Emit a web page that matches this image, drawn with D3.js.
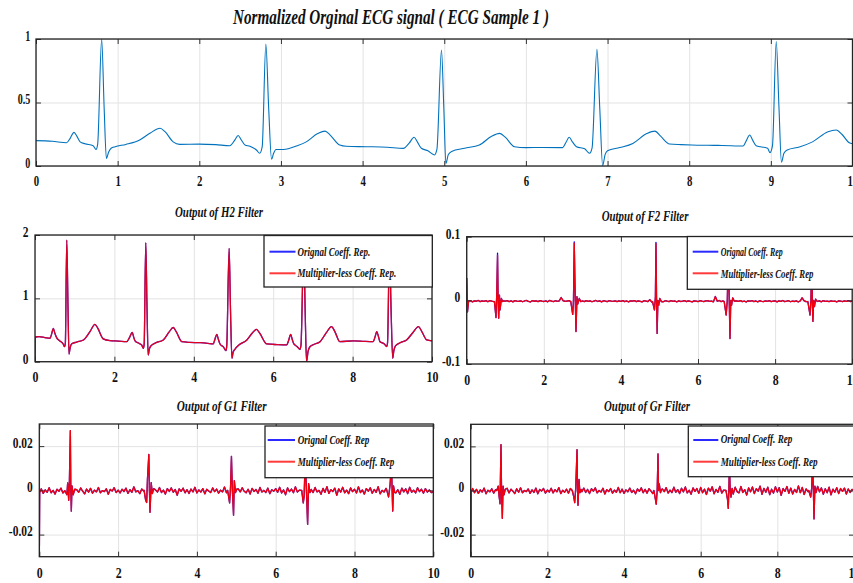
<!DOCTYPE html>
<html><head><meta charset="utf-8">
<script src="https://cdn.jsdelivr.net/npm/d3@7"></script>
<style>
html,body{margin:0;padding:0;background:#fff;}
svg{display:block;}
</style></head><body>
<svg id="c" width="853" height="583"></svg>
<script>
// ---------------- DATA ----------------
const mainTitle = "Normalized Orginal ECG signal ( ECG Sample 1 )";
const panelTitles = ["Output of H2 Filter", "Output of F2 Filter", "Output of G1 Filter", "Output of Gr Filter"];
const legendH2 = ["Orignal Coeff. Rep.", "Multiplier-less Coeff. Rep."];
const legendOther = ["Orignal Coeff. Rep", "Multiplier-less Coeff. Rep"];

const ecgXTicks = [0,1,2,3,4,5,6,7,8,9,10];
const ecgYTicks = [0,0.5,1];
const filtXTicks = [0,2,4,6,8,10];
const h2YTicks = [0,1,2];
const f2YTicks = [-0.1,0,0.1];
const gYTicks = [-0.02,0,0.02];

// Normalized original ECG [time s, amplitude]
const ecgSignal = [[0,0.20],[0.2,0.195],[0.375,0.183],[0.42,0.22],[0.465,0.265],[0.5,0.235],[0.54,0.19],[0.6,0.175],[0.70,0.16],[0.735,0.13],[0.755,0.17],[0.804,1.0],[0.835,0.45],[0.862,0.06],[0.89,0.11],[0.92,0.14],[0.97,0.152],[1.1,0.17],[1.27,0.205],[1.4,0.26],[1.52,0.297],[1.58,0.27],[1.68,0.19],[1.76,0.17],[2.0,0.172],[2.2,0.168],[2.375,0.16],[2.43,0.2],[2.476,0.24],[2.51,0.21],[2.56,0.165],[2.62,0.155],[2.70,0.126],[2.74,0.10],[2.77,0.15],[2.815,0.96],[2.85,0.45],[2.885,0.053],[2.91,0.1],[2.94,0.13],[3.03,0.13],[3.2,0.16],[3.31,0.19],[3.45,0.255],[3.54,0.275],[3.6,0.245],[3.72,0.165],[3.8,0.155],[4.05,0.152],[4.3,0.148],[4.50,0.139],[4.57,0.18],[4.63,0.226],[4.67,0.19],[4.72,0.14],[4.80,0.12],[4.88,0.087],[4.91,0.13],[4.966,0.913],[4.995,0.45],[5.02,0.02],[5.05,0.09],[5.09,0.115],[5.25,0.14],[5.43,0.165],[5.58,0.235],[5.68,0.257],[5.75,0.225],[5.86,0.152],[6.0,0.145],[6.2,0.146],[6.45,0.145],[6.49,0.185],[6.53,0.226],[6.57,0.19],[6.62,0.152],[6.72,0.135],[6.78,0.10],[6.81,0.14],[6.87,0.918],[6.905,0.45],[6.94,0.003],[6.97,0.09],[7.0,0.12],[7.15,0.145],[7.31,0.178],[7.48,0.255],[7.58,0.275],[7.65,0.235],[7.76,0.173],[7.9,0.168],[8.03,0.165],[8.2,0.163],[8.4,0.162],[8.66,0.157],[8.70,0.2],[8.74,0.244],[8.78,0.2],[8.82,0.16],[8.96,0.14],[8.99,0.105],[9.02,0.16],[9.066,0.98],[9.10,0.45],[9.13,0.03],[9.16,0.1],[9.20,0.126],[9.35,0.15],[9.51,0.19],[9.70,0.27],[9.80,0.283],[9.87,0.25],[9.96,0.183],[10,0.175]];

// H2 filter output [time s, amplitude] (both representations overlap)
const h2Output = [[0,0],[0.005,0.39],[0.1,0.395],[0.25,0.38],[0.38,0.37],[0.42,0.44],[0.46,0.527],[0.5,0.45],[0.545,0.38],[0.62,0.33],[0.71,0.28],[0.745,0.237],[0.765,0.3],[0.80,1.92],[0.83,0.9],[0.856,0.12],[0.885,0.22],[0.92,0.28],[1.05,0.31],[1.22,0.343],[1.38,0.47],[1.51,0.59],[1.58,0.53],[1.72,0.36],[1.89,0.332],[2.1,0.325],[2.31,0.316],[2.38,0.38],[2.45,0.464],[2.48,0.4],[2.52,0.33],[2.62,0.29],[2.69,0.26],[2.73,0.21],[2.75,0.28],[2.79,1.88],[2.82,0.9],[2.85,0.105],[2.88,0.2],[2.92,0.25],[3.05,0.3],[3.23,0.343],[3.38,0.47],[3.48,0.54],[3.56,0.47],[3.70,0.316],[3.9,0.305],[4.16,0.30],[4.35,0.29],[4.49,0.28],[4.53,0.35],[4.58,0.43],[4.62,0.35],[4.66,0.28],[4.75,0.23],[4.81,0.174],[4.83,0.25],[4.89,1.79],[4.925,0.8],[4.96,0.054],[4.99,0.15],[5.04,0.2],[5.15,0.27],[5.33,0.34],[5.47,0.45],[5.58,0.51],[5.66,0.45],[5.84,0.28],[6.1,0.27],[6.34,0.265],[6.39,0.34],[6.44,0.43],[6.48,0.35],[6.52,0.28],[6.6,0.24],[6.675,0.195],[6.70,0.26],[6.77,1.85],[6.805,0.8],[6.84,0.0],[6.88,0.17],[6.93,0.24],[7.05,0.28],[7.18,0.316],[7.33,0.45],[7.47,0.553],[7.55,0.48],[7.68,0.316],[8.02,0.33],[8.3,0.32],[8.52,0.316],[8.56,0.38],[8.61,0.474],[8.65,0.4],[8.69,0.316],[8.8,0.28],[8.86,0.24],[8.88,0.3],[8.93,1.82],[8.97,0.8],[9.01,0.053],[9.04,0.18],[9.08,0.25],[9.2,0.3],[9.36,0.343],[9.52,0.46],[9.66,0.553],[9.74,0.48],[9.87,0.343],[10,0.33]];

// Filter outputs: start transient, QRS complexes [time s, value], baseline noise (x1e-4, one value every 0.05 s)
const noiseStep = 0.05;
const noiseUnit = 1e-4;

const f2Start = [[0,0.035],[0.02,-0.018],[0.05,-0.001]];
const f2Beats = [
  [[0.72,-0.002],[0.76,-0.027],[0.78,0.012],[0.80,0.071],[0.815,0.0],[0.83,-0.028],[0.85,0.008],[0.865,-0.015],[0.9,0.003],[0.93,-0.002]],
  [[2.70,-0.002],[2.75,-0.022],[2.77,0.0],[2.79,0.090],[2.81,0.02],[2.835,-0.049],[2.86,0.006],[2.88,-0.006],[2.92,0.003],[2.96,-0.002]],
  [[4.82,-0.002],[4.87,-0.015],[4.895,0.005],[4.91,0.089],[4.925,0.0],[4.94,-0.052],[4.96,0.0],[4.98,-0.008],[5.01,0.003],[5.05,-0.002]],
  [[6.68,-0.002],[6.73,-0.023],[6.76,0.0],[6.79,0.08],[6.81,0.0],[6.83,-0.06],[6.85,0.0],[6.87,-0.008],[6.9,0.004],[6.94,-0.001]],
  [[8.85,-0.002],[8.905,-0.023],[8.93,0.0],[8.95,0.07],[8.965,0.0],[8.98,-0.033],[9.0,0.0],[9.02,-0.01],[9.05,0.002],[9.08,-0.001]]
];
const f2PeaksOrig = [0.074, 0.092, 0.091, 0.082, 0.072];
const f2Noise = [
 -6,-18,-4,-25,-9,-14,-2,-20,-10,-16,-5,-23,-3,-12,-19,-8,-15,-4,-21,-9,
 -13,-5,-19,-8,-24,-3,-11,-17,-7,-22,-10,-2,-16,-26,-6,-14,-9,-20,-4,-12,
 -18,-7,-23,-1,-13,-19,-6,-15,-9,45,-3,-17,-11,-5,-21,-8,-14,-28,-7,-14,
 -10,-19,-4,-16,-8,-22,-12,-2,-18,-9,-24,-6,-14,-19,-3,-11,-17,-7,-21,-9,
 -15,-5,-20,-10,-25,-8,-13,-3,-19,-9,-16,-23,-6,-12,-19,12,-27,-9,-14,-4,
 -17,-9,-22,-6,-13,-19,-3,-15,-10,-25,-7,-18,-12,-5,-20,-9,-16,-23,-8,-11,
 -19,-6,-14,-21,-9,-4,-17,-12,-24,60,-15,-2,-19,-10,16,-28,-13,-7,-18,-22,
 -8,-16,-5,-20,-11,-26,-7,-14,-3,-19,-10,-23,-6,-15,-21,-9,-17,-4,-19,-12,
 -7,-24,-9,-16,-2,-19,-13,-6,-22,-11,-18,-7,-25,-10,40,-5,-20,-9,-16,-21,
 -6,-13,-18,-9,-23,-3,-15,-11,-19,-8,-17,-12,-25,-7,-14,-21,-9,-16,-5,-18,
 -11];

const g1Start = [[0,-0.032],[0.01,-0.001]];
const g1Beats = [
  [[0.70,-0.002],[0.72,0.0034],[0.746,-0.0045],[0.763,0.0034],[0.788,0.027],[0.80,0.0],[0.813,-0.0094],[0.83,0.002],[0.86,-0.002],[0.9,0.0005]],
  [[2.66,0.0],[2.70,-0.0045],[2.725,-0.0055],[2.745,0.005],[2.78,0.0162],[2.795,0.0],[2.81,-0.0099],[2.84,0.0035],[2.87,-0.0015],[2.9,0.0008]],
  [[4.78,0.0],[4.83,-0.0057],[4.855,0.002],[4.877,0.0154],[4.90,0.0],[4.93,-0.0112],[4.95,0.0044],[4.98,-0.001],[5.01,0.0005]],
  [[6.66,0.0],[6.70,-0.0057],[6.72,-0.003],[6.75,0.014],[6.78,0.0],[6.81,-0.0154],[6.835,0.003],[6.87,-0.001]],
  [[8.82,0.0],[8.865,-0.003],[8.90,0.002],[8.94,0.012],[8.955,0.0],[8.97,-0.0094],[8.99,0.002],[9.02,-0.001]]
];
const g1Noise = [
 -6,7,-14,2,-9,12,-11,0,-17,5,-4,10,-12,-2,-15,8,-7,14,-13,3,
 -9,11,-4,-16,6,-8,9,-13,1,-7,13,-11,-1,-6,7,-18,4,-3,12,-10,
 1,-12,5,-5,10,-14,3,-9,16,-7,-1,-15,6,-3,-11,9,-6,5,-13,2,
 -8,13,-10,1,-17,8,-5,11,-9,4,-22,7,-4,10,-11,3,-14,6,-7,14,
 -12,2,-8,8,-16,5,-3,-10,11,-6,6,-13,1,-7,15,-11,3,-9,9,-5,
 -14,7,-7,12,-4,-11,5,-17,9,-5,4,-13,13,-8,0,-10,10,-15,3,-4,
 8,-9,14,-12,2,-20,11,-6,6,-11,16,-8,1,-16,7,-5,12,-13,4,-10,
 13,-7,0,-18,9,-9,17,-14,3,-5,10,-22,7,-8,14,-11,1,-15,11,-6,
 5,-12,16,-10,2,-17,8,-4,12,-13,4,-9,17,-16,0,-8,9,-14,6,-5,
 11,-11,3,-18,10,-7,7,-15,14,-9,1,-12,12,-6,5,-13,8,-8,2,-10,
 -6];

const grStart = [[0,-0.032],[0.01,-0.001]];
const grBeats = [
  [[0.68,0.0],[0.72,0.002],[0.74,-0.0025],[0.765,-0.006],[0.79,0.0208],[0.805,0.0],[0.825,-0.0126],[0.845,0.002],[0.87,-0.002],[0.9,0.0005]],
  [[2.65,0.0],[2.69,-0.003],[2.713,-0.0055],[2.74,0.001],[2.774,0.0185],[2.787,0.0],[2.80,-0.0067],[2.826,0.005],[2.85,-0.001],[2.88,0.0005]],
  [[4.78,0.0],[4.84,-0.0062],[4.865,0.0],[4.887,0.0166],[4.90,0.0],[4.92,0.003],[4.95,-0.001],[4.98,0.0005]],
  [[6.66,0.0],[6.70,-0.004],[6.72,-0.0081],[6.735,0.0],[6.75,0.012],[6.77,0.0],[6.79,-0.003],[6.82,0.001]],
  [[8.82,0.0],[8.87,-0.003],[8.895,0.001],[8.92,0.012],[8.94,0.0],[8.957,-0.0129],[8.98,0.002],[9.01,-0.001]]
];
const grNoise = [
 -4,9,-10,5,-13,3,-7,11,-15,1,-6,8,-12,4,-9,13,-16,2,-5,10,
 -11,6,-3,-14,8,-8,12,-10,0,-5,7,-13,3,-9,11,-15,5,-2,9,-12,
 2,-7,10,-11,4,-6,13,-14,1,-8,6,-12,9,-4,-10,7,-13,3,-6,11,
 -9,5,-14,8,-3,12,-11,0,-7,10,-16,4,-5,9,-12,2,-8,14,-10,6,
 -13,3,-6,11,-9,1,-15,7,-4,12,-10,5,-12,8,-2,-14,10,-7,4,-11,
 7,-5,13,-12,2,-9,15,-8,4,-14,10,-6,16,-11,1,-17,12,-4,9,-13,
 14,-10,6,-18,11,-3,17,-15,5,-8,19,-12,2,-20,13,-7,9,-16,15,-5,
 -11,18,-9,4,-21,12,-6,16,-14,8,-3,20,-17,10,-8,15,-19,6,-12,17,
 -7,13,-22,9,-4,18,-13,11,-16,5,-9,21,-10,14,-18,7,-5,16,-15,10,
 -12,19,-6,12,-17,8,-10,15,-20,6,-8,13,-14,9,-4,11,-16,7,-9,5,
 -3];

// ---------------- BUILD ----------------
function buildSeries(start, beats, noise){
  const pts = start.map(p => p.slice());
  const lastStart = start.length ? start[start.length-1][0] : -1;
  noise.forEach((n,i) => {
    const t = +(i*noiseStep).toFixed(4);
    if (t <= lastStart) return;
    if (beats.some(b => t >= b[0][0] - 0.01 && t <= b[b.length-1][0] + 0.01)) return;
    pts.push([t, n*noiseUnit]);
  });
  beats.forEach(b => b.forEach(p => pts.push(p.slice())));
  pts.sort((a,b) => a[0]-b[0]);
  return pts;
}
function withPeaks(beats, peaks){
  return beats.map((b,i) => {
    let mi = 0; b.forEach((p,j) => { if (p[1] > b[mi][1]) mi = j; });
    return b.map((p,j) => j === mi ? [p[0], peaks[i]] : p);
  });
}

const f2Mless = buildSeries(f2Start, f2Beats, f2Noise);
const f2Orig = buildSeries(f2Start, withPeaks(f2Beats, f2PeaksOrig), f2Noise);
const g1Series = buildSeries(g1Start, g1Beats, g1Noise);
const grSeries = buildSeries(grStart, grBeats, grNoise);

const FONT = '"Liberation Serif","Times New Roman",Times,serif';
const BLUE = "#0000ff", RED = "#ff0000";
const svg = d3.select("#c");

function drawPanel(p){
  const [x0,y0,x1,y1] = p.box;
  const x = d3.scaleLinear().domain([0,10]).range([x0,x1]);
  const y = d3.scaleLinear().domain(p.yDomain).range([y1,y0]);
  const g = svg.append("g");

  // grid
  g.append("g").attr("transform",`translate(0,${y1})`)
    .call(d3.axisBottom(x).tickValues(p.xTicks).tickSize(-(y1-y0)).tickFormat(""))
    .call(s => { s.select(".domain").remove(); s.selectAll("line").attr("stroke","#e3e3e3").attr("stroke-width",1); });
  g.append("g").attr("transform",`translate(${x0},0)`)
    .call(d3.axisLeft(y).tickValues(p.yTicks).tickSize(-(x1-x0)).tickFormat(""))
    .call(s => { s.select(".domain").remove(); s.selectAll("line").attr("stroke","#e3e3e3").attr("stroke-width",1); });

  // traces
  const cid = "clip-" + p.id;
  svg.append("clipPath").attr("id",cid).append("rect")
    .attr("x",x0).attr("y",y0).attr("width",x1-x0).attr("height",y1-y0);
  const plot = g.append("g").attr("clip-path",`url(#${cid})`);
  p.series.forEach(s => {
    plot.append("path").datum(s.data)
      .attr("d", d3.line().x(d => x(d[0])).y(d => y(d[1])).curve(s.curve))
      .attr("fill","none").attr("stroke",s.color).attr("stroke-width",s.width)
      .attr("stroke-opacity", s.opacity == null ? 1 : s.opacity)
      .attr("stroke-linejoin","round");
  });

  // inward tick marks
  const tk = (axis, tr) => g.append("g").attr("transform",tr).call(axis)
    .call(s => { s.select(".domain").remove(); s.selectAll("line").attr("stroke","#333").attr("stroke-width",1); });
  tk(d3.axisBottom(x).tickValues(p.xTicks).tickSize(-5).tickFormat(""), `translate(0,${y1})`);
  tk(d3.axisTop(x).tickValues(p.xTicks).tickSize(-5).tickFormat(""), `translate(0,${y0})`);
  tk(d3.axisLeft(y).tickValues(p.yTicks).tickSize(-5).tickFormat(""), `translate(${x0},0)`);
  tk(d3.axisRight(y).tickValues(p.yTicks).tickSize(-5).tickFormat(""), `translate(${x1},0)`);

  // box
  g.append("rect").attr("x",x0).attr("y",y0).attr("width",x1-x0).attr("height",y1-y0)
    .attr("fill","none").attr("stroke","#222").attr("stroke-width",1.3);

  // tick labels
  const lab = (axis, tr, size, sx, isY) => {
    const a = g.append("g").attr("transform",tr).call(axis);
    a.select(".domain").remove();
    a.selectAll("line").remove();
    a.selectAll("text").attr("font-family",FONT).attr("font-weight","bold")
      .attr("font-size",size).attr("fill","#111").attr("transform",`scale(${sx},1)`);
    if (isY) a.selectAll("text").attr("dy","0.1em");
  };
  lab(d3.axisBottom(x).tickValues(p.xTicks).tickSize(0).tickPadding(p.xPad).tickFormat(d => String(d)),
      `translate(0,${y1})`, p.xFont, p.sx, false);
  lab(d3.axisLeft(y).tickValues(p.yTicks).tickSize(0).tickPadding(p.yPad).tickFormat(d => String(d)),
      `translate(${x0},0)`, p.yFont, p.sx, true);

  // title
  g.append("text").attr("x",p.title.x).attr("y",p.title.y).text(p.title.text)
    .attr("font-family",FONT).attr("font-weight","bold").attr("font-style","italic")
    .attr("font-size",p.title.size).attr("fill","#111")
    .attr("textLength",p.title.len).attr("lengthAdjust","spacingAndGlyphs");

  // legend
  if (p.legend){
    const L = p.legend;
    const lg = g.append("g");
    lg.append("rect").attr("x",L.box[0]).attr("y",L.box[1]).attr("width",L.box[2]-L.box[0]).attr("height",L.box[3]-L.box[1])
      .attr("fill","#fff").attr("stroke","#222").attr("stroke-width",1.3);
    [BLUE, RED].forEach((c,i) => {
      lg.append("line").attr("x1",L.lineX[0]).attr("x2",L.lineX[1]).attr("y1",L.rowY[i]).attr("y2",L.rowY[i])
        .attr("stroke", i === 0 ? "#2a2aff" : "#ff3a3a").attr("stroke-width",2);
      lg.append("text").attr("x",L.textX).attr("y",L.base[i]).text(L.labels[i])
        .attr("font-family",FONT).attr("font-weight","bold").attr("font-style","italic")
        .attr("font-size",13.5).attr("fill","#111")
        .attr("textLength",L.len[i]).attr("lengthAdjust","spacingAndGlyphs");
    });
  }
}

const linear = d3.curveLinear, smooth = d3.curveMonotoneX;

drawPanel({id:"ecg", box:[36,39,852.5,166], yDomain:[0,1], xTicks:ecgXTicks, yTicks:ecgYTicks,
  xPad:9, yPad:8, xFont:15, yFont:14, sx:0.72,
  title:{text:mainTitle, x:233, y:23.5, size:22, len:316},
  series:[{data:ecgSignal, color:"#0072BD", width:1.1, curve:smooth}]});

drawPanel({id:"h2", box:[35,235,432,361.7], yDomain:[0,2], xTicks:filtXTicks, yTicks:h2YTicks,
  xPad:10, yPad:8, xFont:14.5, yFont:14, sx:0.82,
  title:{text:panelTitles[0], x:175, y:217, size:15, len:88},
  legend:{box:[264,235.5,432.3,287], lineX:[269.5,295.5], rowY:[251.7,273.3], textX:297.5, base:[255.5,277], len:[72.7,98.7], labels:legendH2},
  series:[{data:h2Output, color:BLUE, width:1.3, curve:smooth},
          {data:h2Output, color:RED, width:1.3, opacity:0.86, curve:smooth}]});

drawPanel({id:"f2", box:[466.7,236.7,852.2,364], yDomain:[-0.1,0.1], xTicks:filtXTicks, yTicks:f2YTicks,
  xPad:11, yPad:8, xFont:14.5, yFont:14, sx:0.82,
  title:{text:panelTitles[1], x:601.7, y:220.5, size:15, len:86.7},
  legend:{box:[687.3,236.5,860,289.3], lineX:[692.7,718.3], rowY:[251.7,273.3], textX:720.7, base:[256,278], len:[62,92.7], labels:legendOther},
  series:[{data:f2Orig, color:BLUE, width:1.3, curve:linear},
          {data:f2Mless, color:RED, width:1.3, opacity:0.95, curve:linear}]});

drawPanel({id:"g1", box:[39.3,424,433.3,556.7], yDomain:[-0.03,0.03], xTicks:filtXTicks, yTicks:gYTicks,
  xPad:11, yPad:8, xFont:14.5, yFont:14, sx:0.82,
  title:{text:panelTitles[2], x:176.7, y:410.5, size:15, len:90},
  legend:{box:[265,426,433.3,477.7], lineX:[267.7,295], rowY:[440,461.7], textX:297.7, base:[443.5,466], len:[71.7,96.7], labels:legendOther},
  series:[{data:g1Series, color:BLUE, width:1.3, curve:linear},
          {data:g1Series, color:RED, width:1.3, opacity:0.95, curve:linear}]});

drawPanel({id:"gr", box:[470.7,424.3,854,556.7], yDomain:[-0.03,0.03], xTicks:filtXTicks, yTicks:gYTicks,
  xPad:11, yPad:8, xFont:14.5, yFont:14, sx:0.82,
  title:{text:panelTitles[3], x:604, y:410.5, size:15, len:86},
  legend:{box:[688.3,426,860,476.7], lineX:[693.3,718.3], rowY:[440,461.7], textX:720.7, base:[443.3,466], len:[71.7,97], labels:legendOther},
  series:[{data:grSeries, color:BLUE, width:1.3, curve:linear},
          {data:grSeries, color:RED, width:1.3, opacity:0.95, curve:linear}]});
</script></body></html>
